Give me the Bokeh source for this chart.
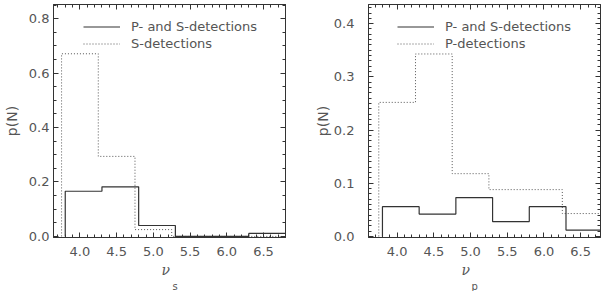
from bokeh.plotting import figure
from bokeh.layouts import row
from bokeh.models import (Range1d, LinearAxis, SingleIntervalTicker,
                          NumeralTickFormatter, Legend, LegendItem, Title,
                          CustomLabelingPolicy)
from bokeh.embed import file_html
from bokeh.resources import INLINE

# ---- data ----
bin_width = 0.5
solid_bin_start = 3.8
dotted_bin_start = 3.75

# left panel: nu_s
s_both = [0.166, 0.182, 0.040, 0.0, 0.0, 0.011]      # P- and S-detections
s_only = [0.671, 0.294, 0.025, 0.0, 0.0, 0.0]        # S-detections
# right panel: nu_p
p_both = [0.056, 0.042, 0.073, 0.028, 0.056, 0.012]  # P- and S-detections
p_only = [0.252, 0.343, 0.118, 0.088, 0.088, 0.043]  # P-detections

label_both = "P- and S-detections"
label_s = "S-detections"
label_p = "P-detections"

TEXT = "#555555"
LINE = "#333333"
FONT = "DejaVu Sans"


def step_xy(start, values):
    edges = [start + i * bin_width for i in range(len(values) + 1)]
    xs = [edges[0]] + edges
    ys = [0.0] + list(values) + [values[-1]]
    return xs, ys


def style_axis(ax, labels=True):
    ax.axis_line_color = LINE
    ax.major_tick_line_color = LINE
    ax.minor_tick_line_color = LINE
    ax.major_tick_in = 5
    ax.major_tick_out = 0
    ax.minor_tick_in = 3
    ax.minor_tick_out = 0
    if labels:
        ax.major_label_text_color = TEXT
        ax.major_label_text_font = FONT
        ax.major_label_text_font_size = "13px"
    else:
        ax.major_label_policy = CustomLabelingPolicy(
            code="return new indices.constructor(indices.size, 0)")
        ax.major_label_text_font_size = "1px"
        ax.major_label_standoff = 0


def panel(xr, yr, ymajor, yminor, both, only, label_only, sub,
          nu_off, sub_off, border_left, border_right, ystandoff, ylabstand,
          legend_x):
    p = figure(frame_width=232, frame_height=233,
               x_range=Range1d(*xr), y_range=Range1d(*yr),
               output_backend="svg", toolbar_location=None,
               min_border_left=border_left, min_border_right=border_right,
               min_border_top=1, min_border_bottom=40,
               x_axis_type=None, y_axis_type=None)
    p.grid.visible = False
    p.outline_line_color = LINE
    p.background_fill_color = "white"
    p.border_fill_color = "white"

    xt = SingleIntervalTicker(interval=0.5, num_minor_ticks=5)
    yt = SingleIntervalTicker(interval=ymajor, num_minor_ticks=yminor)

    xb = LinearAxis(ticker=xt, formatter=NumeralTickFormatter(format="0.0"))
    style_axis(xb)
    xb.major_label_standoff = 9
    p.add_layout(xb, "below")

    yl = LinearAxis(ticker=yt, formatter=NumeralTickFormatter(format="0.0"),
                    axis_label="p(N)")
    style_axis(yl)
    yl.major_label_standoff = ystandoff
    yl.axis_label_standoff = ylabstand
    yl.axis_label_text_font = FONT
    yl.axis_label_text_font_style = "normal"
    yl.axis_label_text_font_size = "14px"
    yl.axis_label_text_color = TEXT
    p.add_layout(yl, "left")

    xa = LinearAxis(ticker=xt)
    style_axis(xa, labels=False)
    p.add_layout(xa, "above")
    yr_ax = LinearAxis(ticker=yt)
    style_axis(yr_ax, labels=False)
    p.add_layout(yr_ax, "right")

    bx, by = step_xy(solid_bin_start, both)
    ox, oy = step_xy(dotted_bin_start, only)
    r_only = p.step(ox, oy, mode="after", line_color="#555555",
                    line_width=1, line_dash="1 2")
    r_both = p.step(bx, by, mode="after", line_color=LINE, line_width=1.2)

    leg = Legend(items=[LegendItem(label=label_both, renderers=[r_both]),
                        LegendItem(label=label_only, renderers=[r_only])],
                 location=(legend_x, 185), orientation="vertical")
    leg.border_line_color = None
    leg.background_fill_alpha = 0
    leg.padding = 0
    leg.margin = 0
    leg.spacing = 0
    leg.glyph_width = 37
    leg.glyph_height = 17
    leg.label_height = 17
    leg.label_standoff = 11
    leg.label_text_font = FONT
    leg.label_text_font_size = "13px"
    leg.label_text_color = TEXT
    p.add_layout(leg, "center")

    # x-axis title: greek nu with a subscript, stacked below the axis
    t_nu = Title(text="ν", align="left", offset=nu_off, standoff=2,
                 text_font="DejaVu Serif", text_font_style="italic",
                 text_font_size="14px", text_color=TEXT,
                 text_line_height=0.8)
    t_sub = Title(text=sub, align="left", offset=sub_off, standoff=0,
                  text_font=FONT, text_font_style="normal",
                  text_font_size="10px", text_color=TEXT,
                  text_line_height=0.8)
    p.add_layout(t_nu, "below")
    p.add_layout(t_sub, "below")
    return p


left = panel((3.64, 6.80), (-0.004, 0.852), 0.2, 4, s_both, s_only, label_s,
             "s", 108, 119, 46, 14, 4, 6, 30)
right = panel((3.61, 6.77), (-0.002, 0.436), 0.1, 10, p_both, p_only, label_p,
              "p", 93, 103, 69, 2, 14, 0, 29)

layout = row(left, right)
open("out.html", "w").write(file_html(layout, INLINE))
